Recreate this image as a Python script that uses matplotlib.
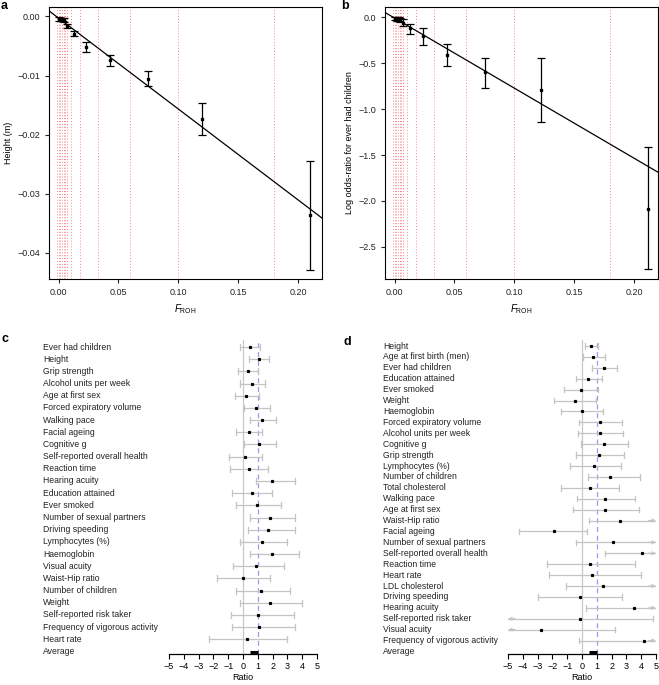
import numpy as np
import matplotlib
matplotlib.use("Agg")
import matplotlib.pyplot as plt
from matplotlib.transforms import blended_transform_factory

plt.rcParams['font.family'] = ['Liberation Sans', 'DejaVu Sans']
plt.rcParams['font.size'] = 6.5
plt.rcParams['mathtext.fontset'] = 'custom'
plt.rcParams['mathtext.rm'] = 'Liberation Sans'
plt.rcParams['mathtext.it'] = 'Liberation Sans:italic'

# ---- panel a / b : binned F_ROH ----
bin_edges = [-0.0014, 0.0, 0.0014, 0.0028, 0.0042, 0.0056, 0.0069, 0.0103,
             0.018, 0.033, 0.06, 0.1, 0.18]

froh_a = [0.0007, 0.0021, 0.0035, 0.0049, 0.0069, 0.013, 0.0233, 0.0433, 0.075, 0.1197, 0.2103]
height = [-0.0004, -0.0005, -0.0005, -0.0006, -0.0016, -0.0029, -0.0052, -0.0074, -0.0105, -0.0173, -0.0336]
height_lo = [-0.0007, -0.0008, -0.0008, -0.0009, -0.0020, -0.0033, -0.0060, -0.0084, -0.0118, -0.0200, -0.0428]
height_hi = [-0.0001, -0.0002, -0.0002, -0.0003, -0.0012, -0.0025, -0.0044, -0.0066, -0.0093, -0.0147, -0.0244]
fit_a = (-0.00028, -0.1537)

froh_b = [0.0007, 0.0021, 0.0035, 0.0049, 0.0069, 0.0131, 0.024, 0.0441, 0.0751, 0.122, 0.2117]
children = [-0.015, -0.02, -0.022, -0.03, -0.058, -0.12, -0.20, -0.41, -0.594, -0.793, -2.083]
children_lo = [-0.035, -0.04, -0.045, -0.055, -0.098, -0.185, -0.297, -0.533, -0.775, -1.145, -2.743]
children_hi = [0.005, 0.0, 0.0, -0.005, -0.018, -0.072, -0.116, -0.286, -0.438, -0.438, -1.417]
fit_b = (-0.0085, -7.63)

# ---- panel c ----
traits_c = ["Ever had children", "Height", "Grip strength", "Alcohol units per week",
            "Age at first sex", "Forced expiratory volume", "Walking pace", "Facial ageing",
            "Cognitive g", "Self-reported overall health", "Reaction time", "Hearing acuity",
            "Education attained", "Ever smoked", "Number of sexual partners", "Driving speeding",
            "Lymphocytes (%)", "Haemoglobin", "Visual acuity", "Waist-Hip ratio",
            "Number of children", "Weight", "Self-reported risk taker",
            "Frequency of vigorous activity", "Heart rate"]
ratio_c = [0.5, 1.06, 0.32, 0.61, 0.23, 0.9, 1.28, 0.4, 1.1, 0.14, 0.38, 1.96, 0.59, 0.95,
           1.82, 1.69, 1.28, 1.94, 0.9, 0.0, 1.22, 1.8, 0.99, 1.06, 0.25]
lo_c = [-0.18, 0.4, -0.36, -0.18, -0.56, 0.07, 0.5, -0.45, 0.07, -0.97, -0.88, 0.86, -0.74,
        -0.45, 0.45, 0.36, -0.18, 0.45, -0.65, -1.73, -0.45, -0.18, -0.81, -0.74, -2.3]
hi_c = [1.17, 1.76, 1.01, 1.49, 1.08, 1.8, 2.2, 1.28, 2.2, 1.28, 1.69, 3.5, 1.96, 2.59,
        3.5, 3.5, 3.0, 3.8, 2.77, 1.8, 3.15, 3.96, 3.45, 3.5, 2.97]
avg_c = (0.5, 1.01)

# ---- panel d ----
traits_d = ["Height", "Age at first birth (men)", "Ever had children", "Education attained",
            "Ever smoked", "Weight", "Haemoglobin", "Forced expiratory volume",
            "Alcohol units per week", "Cognitive g", "Grip strength", "Lymphocytes (%)",
            "Number of children", "Total cholesterol", "Walking pace", "Age at first sex",
            "Waist-Hip ratio", "Facial ageing", "Number of sexual partners",
            "Self-reported overall health", "Reaction time", "Heart rate", "LDL cholesterol",
            "Driving speeding", "Hearing acuity", "Self-reported risk taker", "Visual acuity",
            "Frequency of vigorous activity"]
ratio_d = [0.61, 0.77, 1.47, 0.43, -0.07, -0.5, 0.0, 1.2, 1.22, 1.47, 1.17, 0.84, 1.92, 0.52,
           1.56, 1.56, 2.6, -1.87, 2.08, 4.06, 0.52, 0.68, 1.42, -0.14, 3.5, -0.16, -2.75, 4.22]
lo_d = [0.18, 0.07, 0.68, -0.43, -1.24, -1.9, -1.4, -0.18, -0.29, -0.05, -0.43, -0.81, 0.38,
        -1.4, -0.34, -0.59, 0.5, -4.29, -0.43, 1.53, -2.39, -2.21, -1.1, -2.96, 0.25, -5.6,
        -5.4, -0.18]
hi_d = [1.06, 1.53, 2.35, 1.33, 1.1, 0.93, 1.44, 2.73, 2.8, 3.09, 2.84, 2.66, 3.9, 2.53,
        3.61, 3.88, 5.6, 0.36, 5.8, 6.2, 3.61, 3.97, 5.5, 2.69, 5.9, 4.83, 2.23, 6.5]
avg_d = (0.5, 1.02)

W, H = 659, 685
fig = plt.figure(figsize=(W / 100, H / 100), dpi=100)


def px(l, t, r, b):
    return [l / W, 1 - b / H, (r - l) / W, (b - t) / H]


def scatter_panel(ax, x, y, lo, hi, fit, ylim, yticks, ylabels, ylabel):
    for e in bin_edges:
        ax.axvline(e, color='#ff5555', ls=(0, (1, 2)), lw=0.7, alpha=0.7, zorder=0)
    y = np.array(y)
    err = [y - np.array(lo), np.array(hi) - y]
    ax.errorbar(x, y, yerr=err, fmt='s', ms=2, color='black', ecolor='black',
                elinewidth=0.9, capsize=3, capthick=0.9, zorder=3)
    xs = np.array([-0.008, 0.22])
    ax.plot(xs, fit[0] + fit[1] * xs, color='black', lw=0.9, zorder=2)
    ax.set_xlim(-0.008, 0.22)
    ax.set_ylim(*ylim)
    ax.set_xticks([0, 0.05, 0.10, 0.15, 0.20])
    ax.set_xticklabels(["0.00", "0.05", "0.10", "0.15", "0.20"])
    ax.set_yticks(yticks)
    ax.set_yticklabels(ylabels)
    ax.tick_params(direction='out', length=3, width=0.8, labelsize=6.5, colors='#222222')
    for s in ax.spines.values():
        s.set_linewidth(0.8)
    ax.set_xlabel(r'$\mathit{F}_{\mathrm{ROH}}$', fontsize=7, labelpad=4)
    ax.set_ylabel(ylabel, fontsize=6.5, labelpad=3)


ax_a = fig.add_axes(px(49, 7, 322, 279))
scatter_panel(ax_a, froh_a, height, height_lo, height_hi, fit_a, (-0.0444, 0.0016),
              [0.0, -0.01, -0.02, -0.03, -0.04],
              ["0.00", "\u22120.01", "\u22120.02", "\u22120.03", "\u22120.04"], "Height (m)")

ax_b = fig.add_axes(px(385, 7, 658, 279))
scatter_panel(ax_b, froh_b, children, children_lo, children_hi, fit_b, (-2.85, 0.112),
              [0.0, -0.5, -1.0, -1.5, -2.0, -2.5],
              ["0.0", "\u22120.5", "\u22121.0", "\u22121.5", "\u22122.0", "\u22122.5"],
              "Log odds-ratio for ever had children")

BAR = '#c4c4c4'


def forest_panel(ax, labels, ratio, lo, hi, avg, label_x):
    n = len(labels)
    rows = np.arange(1, n + 1)
    ax.axvline(0, color='#c8c8c8', lw=0.9, zorder=0)
    ax.axvline(1, color='#9a9ae8', lw=0.9, ls=(0, (4, 3)), zorder=0)
    lo_c_ = np.clip(lo, -5, 5)
    hi_c_ = np.clip(hi, -5, 5)
    for r, a, b, a0, b0 in zip(rows, lo_c_, hi_c_, lo, hi):
        ax.plot([a, b], [r, r], color=BAR, lw=0.9, zorder=1)
        if a0 >= -5:
            ax.plot([a, a], [r - 0.25, r + 0.25], color=BAR, lw=0.9, zorder=1)
        else:
            ax.annotate('', xy=(a, r), xytext=(a + 0.5, r),
                        arrowprops=dict(arrowstyle='->', color=BAR, lw=0.9,
                                        mutation_scale=5, shrinkA=0, shrinkB=0))
        if b0 <= 5:
            ax.plot([b, b], [r - 0.25, r + 0.25], color=BAR, lw=0.9, zorder=1)
        else:
            ax.annotate('', xy=(b, r), xytext=(b - 0.5, r),
                        arrowprops=dict(arrowstyle='->', color=BAR, lw=0.9,
                                        mutation_scale=5, shrinkA=0, shrinkB=0))
    ax.plot(ratio, rows, 's', ms=1.3, color='black', zorder=3)
    ax.plot(list(avg), [n + 1, n + 1], color='black', lw=2.2, solid_capstyle='butt', zorder=3)
    ax.set_xlim(-5, 5)
    ax.set_yticks([])
    for s in ['left', 'right', 'top']:
        ax.spines[s].set_visible(False)
    ax.spines['bottom'].set_linewidth(0.9)
    ax.set_xticks(range(-5, 6))
    ax.set_xticklabels([str(v).replace('-', '\u2212') for v in range(-5, 6)])
    ax.tick_params(axis='x', direction='out', length=3.5, width=0.8, labelsize=6.5, pad=2)
    ax.set_xlabel("Ratio", fontsize=6.5, labelpad=2)
    tr = blended_transform_factory(fig.transFigure, ax.transData)
    for r, lab in zip(np.arange(1, n + 2), labels + ["Average"]):
        ax.text(label_x, r, lab, transform=tr, ha='left', va='center', fontsize=6.2,
                color='#222222', clip_on=False)


def forest_axes(l, r, first_px, last_px, n_rows, axis_px, top_px=340):
    sp = (last_px - first_px) / (n_rows - 1)
    ax = fig.add_axes(px(l, top_px, r, axis_px))
    ax.set_ylim(n_rows + (axis_px - last_px) / sp, 1 - (first_px - top_px) / sp)
    return ax


ax_c = forest_axes(169, 317, 347, 651.5, len(traits_c) + 1, 654)
forest_panel(ax_c, traits_c, ratio_c, lo_c, hi_c, avg_c, 43 / W)

ax_d = forest_axes(508, 656, 346, 651.5, len(traits_d) + 1, 654)
forest_panel(ax_d, traits_d, ratio_d, lo_d, hi_d, avg_d, 383 / W)

for lab, x, y in [("a", 1, 0), ("b", 341, 0), ("c", 1, 333), ("d", 344, 336)]:
    fig.text(x / W, 1 - y / H, lab, fontsize=9, fontweight='bold', ha='left', va='top')

fig.savefig("out.png", dpi=100)
